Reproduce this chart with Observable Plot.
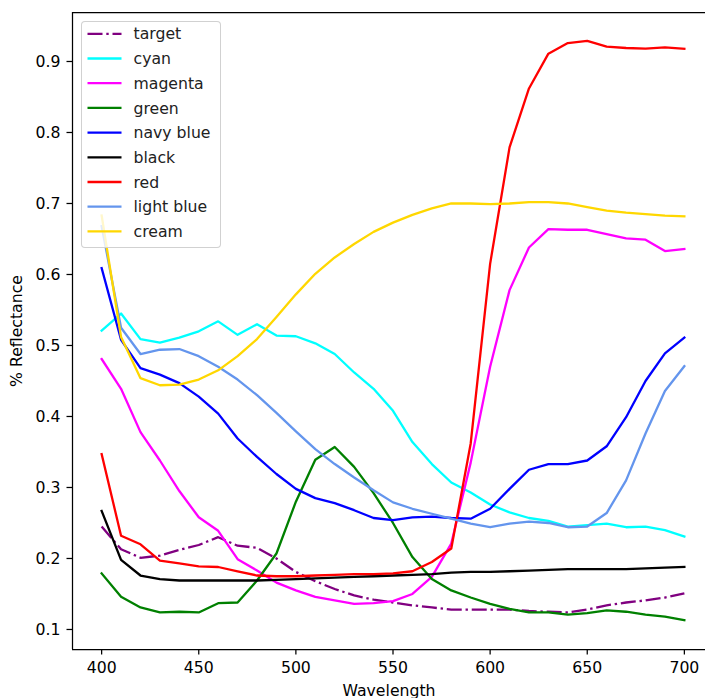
<!DOCTYPE html>
<html><head><meta charset="utf-8">
<script src="https://cdn.jsdelivr.net/npm/d3@7"></script>
<script src="https://cdn.jsdelivr.net/npm/@observablehq/plot@0.6"></script>
<style>
body{margin:0;background:#fff;}
#wrap{position:relative;width:705px;height:698px;overflow:hidden;font-family:"DejaVu Sans";}
#legend{position:absolute;left:81px;top:20.5px;width:138px;height:225px;border:1px solid rgba(204,204,204,0.9);border-radius:4px;background:rgba(255,255,255,0.8);}
#legend svg{display:block;}
</style></head><body><div id="wrap"></div>
<script>
const wavelengths = [400,410,420,430,440,450,460,470,480,490,500,510,520,530,540,550,560,570,580,590,600,610,620,630,640,650,660,670,680,690,700];
const target   = [0.245,0.213,0.201,0.204,0.212,0.219,0.230,0.218,0.215,0.200,0.181,0.168,0.157,0.148,0.142,0.138,0.134,0.131,0.128,0.128,0.128,0.128,0.126,0.125,0.124,0.128,0.134,0.138,0.141,0.145,0.151];
const cyan     = [0.521,0.545,0.509,0.504,0.511,0.520,0.534,0.515,0.530,0.514,0.513,0.503,0.488,0.462,0.439,0.408,0.364,0.333,0.307,0.293,0.276,0.265,0.257,0.253,0.245,0.247,0.249,0.244,0.245,0.240,0.231];
const magenta  = [0.481,0.439,0.378,0.338,0.295,0.258,0.239,0.199,0.183,0.166,0.155,0.146,0.141,0.136,0.137,0.140,0.150,0.174,0.221,0.335,0.470,0.578,0.638,0.664,0.663,0.663,0.657,0.651,0.649,0.633,0.636];
const green    = [0.179,0.146,0.131,0.124,0.125,0.124,0.137,0.138,0.169,0.207,0.280,0.339,0.357,0.329,0.292,0.250,0.202,0.171,0.155,0.145,0.136,0.129,0.124,0.124,0.121,0.123,0.127,0.125,0.121,0.118,0.113];
const navyBlue = [0.609,0.508,0.468,0.459,0.447,0.428,0.404,0.369,0.343,0.319,0.298,0.285,0.278,0.268,0.257,0.254,0.258,0.259,0.257,0.256,0.270,0.298,0.325,0.333,0.333,0.338,0.358,0.399,0.450,0.489,0.511];
const black    = [0.267,0.198,0.176,0.171,0.169,0.169,0.169,0.169,0.169,0.170,0.171,0.172,0.173,0.174,0.175,0.176,0.177,0.178,0.180,0.181,0.181,0.182,0.183,0.184,0.185,0.185,0.185,0.185,0.186,0.187,0.188];
const red      = [0.347,0.232,0.220,0.197,0.193,0.189,0.188,0.182,0.176,0.175,0.175,0.176,0.177,0.178,0.178,0.179,0.182,0.195,0.214,0.362,0.615,0.779,0.862,0.911,0.926,0.929,0.921,0.919,0.918,0.920,0.918];
const lightBlue= [0.668,0.525,0.488,0.494,0.495,0.485,0.470,0.452,0.430,0.405,0.379,0.354,0.333,0.314,0.296,0.279,0.270,0.263,0.256,0.249,0.244,0.249,0.252,0.250,0.244,0.245,0.264,0.310,0.376,0.436,0.471];
const cream    = [0.683,0.512,0.454,0.444,0.445,0.452,0.465,0.485,0.509,0.540,0.572,0.601,0.624,0.643,0.660,0.673,0.684,0.693,0.700,0.700,0.699,0.700,0.702,0.702,0.700,0.695,0.690,0.687,0.685,0.683,0.682];

const seriesNames  = ["target","cyan","magenta","green","navy blue","black","red","light blue","cream"];
const seriesColors = ["purple","cyan","magenta","green","blue","black","red","cornflowerblue","gold"];
const seriesValues = [target,cyan,magenta,green,navyBlue,black,red,lightBlue,cream];
const xTicks = [400,450,500,550,600,650,700];
const yTicks = [0.1,0.2,0.3,0.4,0.5,0.6,0.7,0.8,0.9];
const xLabel = "Wavelength";
const yLabel = "% Reflectance";

const DASHDOT = "15,3.8,2.4,3.8";
const LW = 2.3;
const FS = 15.7;

const data = seriesNames.flatMap((name, i) => wavelengths.map((w, j) => ({name, w, v: seriesValues[i][j]})));

const lines = seriesNames.map((name, i) => Plot.line(data.filter(d => d.name === name), {
  x: "w", y: "v", stroke: seriesColors[i], strokeWidth: LW,
  strokeDasharray: i === 0 ? DASHDOT : undefined,
  strokeLinejoin: "round", strokeLinecap: i === 0 ? "butt" : "square"
}));

const chart = Plot.plot({
  width: 705, height: 698,
  marginLeft: 72, marginRight: 0, marginTop: 12, marginBottom: 49,
  style: {fontFamily: "DejaVu Sans", fontSize: FS + "px", color: "black", background: "white"},
  x: {domain: [385, 715], range: [72, 713]},
  y: {domain: [0.0718, 0.969]},
  marks: [
    Plot.axisX(xTicks, {tickSize: 5.5, tickPadding: 7, strokeWidth: 1.25, fontSize: FS, label: xLabel, labelArrow: false, labelAnchor: "center", labelOffset: 46}),
    Plot.axisY(yTicks, {tickSize: 5.5, tickPadding: 6.5, strokeWidth: 1.25, fontSize: FS, tickFormat: d3.format(".1f"), label: yLabel, labelArrow: false, labelAnchor: "center", labelOffset: 62}),
    ...lines,
    Plot.ruleX([385], {stroke: "black", strokeWidth: 1.25}),
    Plot.ruleY([0.0718, 0.969], {stroke: "black", strokeWidth: 1.25})
  ]
});
const wrap = document.getElementById("wrap");
wrap.appendChild(chart);

// legend overlay
const legend = document.createElement("div");
legend.id = "legend";
wrap.appendChild(legend);
const lsvg = d3.select(legend).append("svg").attr("width", 138).attr("height", 225);
const rows = lsvg.selectAll("g").data(seriesNames).join("g")
  .attr("transform", (d, i) => `translate(0,${11.8 + i * 24.7})`);
rows.append("line").attr("x1", 5.5).attr("x2", 39.5).attr("y1", 0).attr("y2", 0)
  .attr("stroke", (d, i) => seriesColors[i]).attr("stroke-width", LW)
  .attr("stroke-dasharray", (d, i) => i === 0 ? DASHDOT : null);
rows.append("text").attr("x", 51.5).attr("y", 0).attr("dy", "0.36em")
  .attr("font-family", "DejaVu Sans").attr("font-size", FS).attr("fill", "#222")
  .text(d => d);
</script></body></html>
